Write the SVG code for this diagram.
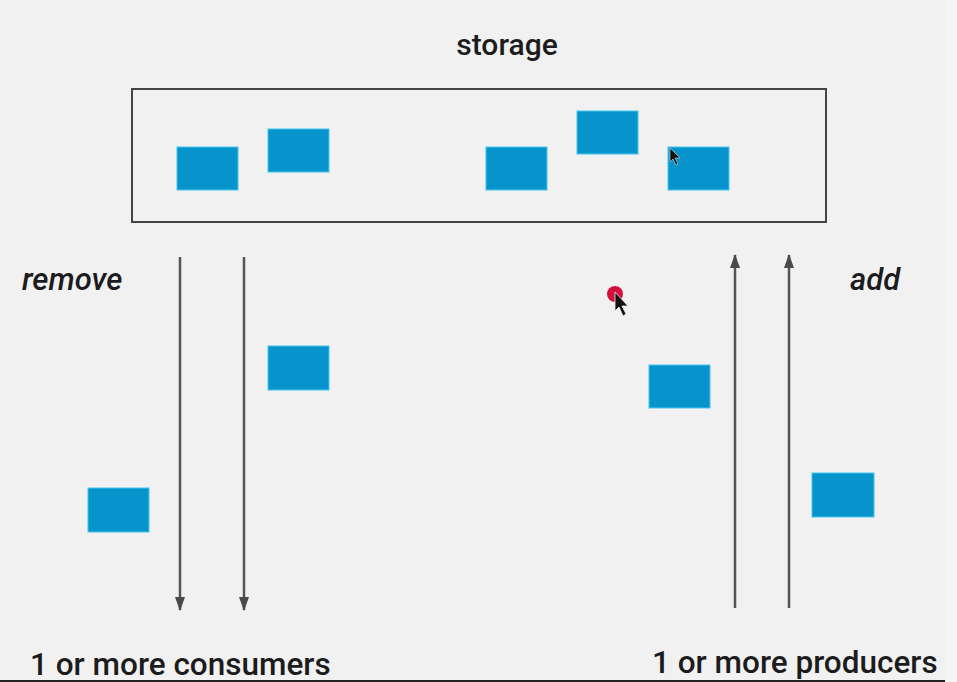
<svg xmlns="http://www.w3.org/2000/svg" width="957" height="682" viewBox="0 0 957 682">
<defs>
<style>
.t{font-family:Roboto,"Liberation Sans",sans-serif;fill:#1c1c1c;font-weight:500}
.i{font-style:italic}
.blk{fill:#0793cc;stroke:#45c6ee;stroke-width:1}
.ln{stroke:#555;stroke-width:2.5;fill:none}
</style>
<marker id="ah" viewBox="0 0 14 10" refX="13" refY="5" markerWidth="14" markerHeight="10" markerUnits="userSpaceOnUse" orient="auto">
<path d="M0,0 L14,5 L0,10 Z" fill="#4a4a4a"/>
</marker>
</defs>
<rect width="957" height="682" fill="#f1f1f2"/>
<rect x="946" y="0" width="11" height="682" fill="#f5f5f5"/>
<line x1="0" y1="681" x2="945" y2="681" stroke="#222" stroke-width="2"/>

<g id="storage">
<text class="t" x="507" y="55" font-size="30" text-anchor="middle">storage</text>
<rect x="132" y="89" width="694" height="133" fill="none" stroke="#444" stroke-width="2"/>
</g>
<g id="blocks">
<rect class="blk" x="177" y="147" width="61" height="43"/>
<rect class="blk" x="268" y="129" width="61" height="43"/>
<rect class="blk" x="486" y="147" width="61" height="43"/>
<rect class="blk" x="577" y="111" width="61" height="43"/>
<rect class="blk" x="668" y="147" width="61" height="43"/>
<rect class="blk" x="268" y="346" width="61" height="44"/>
<rect class="blk" x="88" y="488" width="61" height="44"/>
<rect class="blk" x="649" y="365" width="61" height="43"/>
<rect class="blk" x="812" y="473" width="62" height="44"/>
</g>
<g id="connectors">
<line class="ln" x1="180" y1="257" x2="180" y2="610" marker-end="url(#ah)"/>
<line class="ln" x1="244" y1="257" x2="244" y2="610" marker-end="url(#ah)"/>
<line class="ln" x1="735" y1="608" x2="735" y2="255" marker-end="url(#ah)"/>
<line class="ln" x1="789" y1="608" x2="789" y2="255" marker-end="url(#ah)"/>
</g>
<g id="remove"><text class="t i" x="22" y="290" font-size="31">remove</text></g>
<g id="add"><text class="t i" x="850" y="290" font-size="31">add</text></g>
<g id="consumers"><text class="t" x="30" y="675" font-size="31.5">1 or more consumers</text></g>
<g id="producers"><text class="t" x="652" y="673" font-size="31.5">1 or more producers</text></g>
<g id="cursors">
<circle cx="615" cy="294" r="8" fill="#d4103f"/>
<path d="M615,292 L615,311 L619,307 L623,316 L626,314 L622,306 L628,306 Z" fill="#111" stroke="#eee" stroke-width="0.8"/>
<path d="M670,148 L670,162 L673,159 L676,165 L678,164 L675,158 L680,158 Z" fill="#111" stroke="#ddd" stroke-width="0.6"/>
</g>
</svg>
